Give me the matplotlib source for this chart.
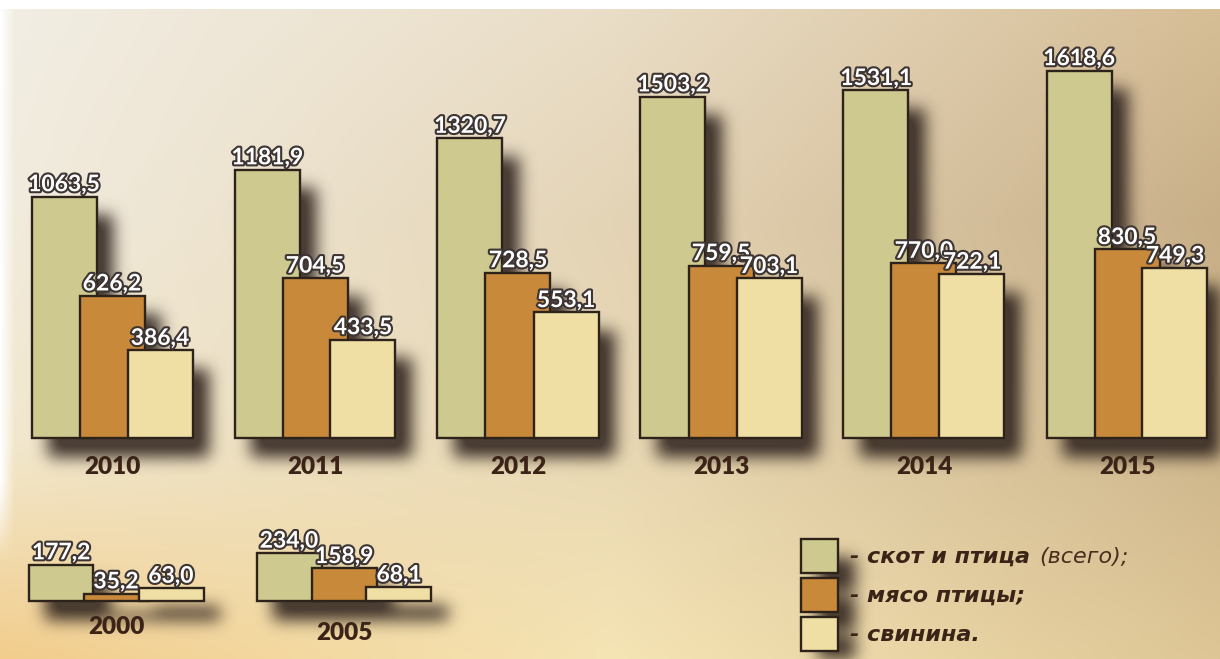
import numpy as np
import matplotlib
matplotlib.use("Agg")
import matplotlib.pyplot as plt
from matplotlib import patheffects
from matplotlib.patches import Patch
from matplotlib.font_manager import FontProperties

# Данные
years_main = ["2010", "2011", "2012", "2013", "2014", "2015"]
total_main = [1063.5, 1181.9, 1320.7, 1503.2, 1531.1, 1618.6]
poultry_main = [626.2, 704.5, 728.5, 759.5, 770.0, 830.5]
pork_main = [386.4, 433.5, 553.1, 703.1, 722.1, 749.3]

years_early = ["2000", "2005"]
total_early = [177.2, 234.0]
poultry_early = [35.2, 158.9]
pork_early = [63.0, 68.1]

legend_labels = ["- скот и птица", "- мясо птицы;", "- свинина."]

W, H = 1220, 659
COLORS = ["#cec98e", "#c8893a", "#f0dfa5"]
EDGE = "#2d231b"
BROWN = "#3b2417"


def fmt(v):
    return f"{v:.1f}".replace(".", ",")


def background():
    """Фон: плавный переход от светлого к песочному"""
    ys = [0, 220, 440, H]
    xs = [0, W / 2, W]
    grid = np.array([
        [(242, 238, 228), (234, 222, 200), (214, 190, 150)],
        [(242, 236, 222), (228, 212, 182), (200, 175, 136)],
        [(242, 232, 206), (232, 216, 180), (206, 182, 140)],
        [(242, 205, 140), (245, 228, 180), (222, 198, 150)],
    ], dtype=float) / 255
    xx = np.arange(W)
    yy = np.arange(H)
    rows = np.stack([np.stack([np.interp(xx, xs, grid[r, :, c]) for c in range(3)], -1)
                     for r in range(len(ys))])
    img = np.stack([np.stack([np.interp(yy, ys, rows[:, x, c]) for c in range(3)], -1)
                    for x in range(W)], 1)
    # белая кромка сверху и мягкая слева
    img[:9, :] = 1.0
    wx = np.clip(1 - xx / 14.0, 0, 1)[None, :]
    wy = np.clip((560 - yy) / 80.0, 0, 1)[:, None]
    w = (wx * wy)[..., None]
    img = img * (1 - w) + w
    return img


def blur(a, sigma):
    r = int(3 * sigma)
    k = np.exp(-0.5 * (np.arange(-r, r + 1) / sigma) ** 2)
    k /= k.sum()
    a = np.apply_along_axis(lambda m: np.convolve(m, k, mode="same"), 0, a)
    a = np.apply_along_axis(lambda m: np.convolve(m, k, mode="same"), 1, a)
    return a


label_fx = [patheffects.withStroke(linewidth=3, foreground="#3d3533")]


def draw_group(ax, x, series, width, step):
    bars = []
    for k, vals in enumerate(series):
        pos = x + (k - 1) * step
        b = ax.bar(pos, vals, width, color=COLORS[k], edgecolor=EDGE,
                   linewidth=1.7, zorder=2 + k)
        bars.extend(b)
        for xi, v in zip(pos, vals):
            ax.annotate(fmt(v), (xi, v), xytext=(0, 1), textcoords="offset points",
                        ha="center", va="bottom", fontsize=16.5, fontweight="bold",
                        family="Lato", color="white", path_effects=label_fx, zorder=10)
    return bars


fig = plt.figure(figsize=(W / 100, H / 100), dpi=100)

bg_ax = fig.add_axes([0, 0, 1, 1])
bg_ax.imshow(background(), aspect="auto", interpolation="bilinear")
bg_ax.axis("off")

sh_ax = fig.add_axes([0, 0, 1, 1])
sh_ax.axis("off")

# Основная диаграмма 2010-2015
ax = fig.add_axes([0, 0, 1, 1])
ax.axis("off")
s_main = 0.227   # пикселей на единицу
gap_main = 203.0
x_main = np.arange(len(years_main))
ax.set_xlim(-112 / gap_main, (W - 112) / gap_main)
ax.set_ylim(-(H - 438) / s_main, 438 / s_main)
bars = draw_group(ax, x_main, [total_main, poultry_main, pork_main],
                  65 / gap_main, 48 / gap_main)
for xi, yr in zip(x_main, years_main):
    ax.text(xi, -29 / s_main, yr, ha="center", va="center", fontsize=17.5,
            fontweight="heavy", family="Lato", color=BROWN)

# Малая диаграмма 2000, 2005
ax2 = fig.add_axes([0, 0, 1, 1])
ax2.axis("off")
s_early = 0.205
gap_early = 228.0
x_early = np.arange(len(years_early))
ax2.set_xlim(-116 / gap_early, (W - 116) / gap_early)
ax2.set_ylim(-(H - 601) / s_early, 601 / s_early)
bars += draw_group(ax2, x_early, [total_early, poultry_early, pork_early],
                   65 / gap_early, 55 / gap_early)
for xi, yr in zip(x_early, years_early):
    ax2.text(xi, -(26 + 6 * xi) / s_early, yr, ha="center", va="center", fontsize=17.5,
             fontweight="heavy", family="Lato", color=BROWN)

# Легенда
leg_font = FontProperties(family="DejaVu Sans", weight="bold", style="oblique", size=16)
handles = [Patch(facecolor=c, edgecolor=EDGE, linewidth=1.7) for c in COLORS]
leg = fig.legend(handles, legend_labels, loc="upper left",
                 bbox_to_anchor=(801 / W, 1 - 539 / H), frameon=False,
                 borderpad=0, borderaxespad=0, handlelength=1.67, handleheight=1.95,
                 labelspacing=0.25, handletextpad=0.55, prop=leg_font, labelcolor=BROWN)

fig.canvas.draw()
t0 = leg.get_texts()[0]
bb = t0.get_window_extent()
anchor = t0.get_transform().transform(t0.get_position())
fig.text((bb.x1 + 9) / W, anchor[1] / H, "(всего);", ha="left", va="baseline",
         family="DejaVu Sans", weight="normal", style="oblique", size=16, color="#4a2e1e")

# Размытые тени
mask = np.zeros((H, W))
dx, dy = 17, 19
for p in list(bars) + list(leg.get_patches()):
    e = p.get_window_extent()
    c0, c1 = int(e.x0) + dx, int(e.x1) + dx
    r0, r1 = int(H - e.y1) + dy, int(H - e.y0) + dy
    mask[max(r0, 0):max(min(r1, H), 0), max(c0, 0):max(min(c1, W), 0)] = 1.0
mask = blur(mask, 8)
shadow = np.zeros((H, W, 4))
shadow[..., 0] = 0.18
shadow[..., 1] = 0.13
shadow[..., 2] = 0.11
shadow[..., 3] = np.clip(mask * 1.1, 0, 1) * 0.85
sh_ax.imshow(shadow, aspect="auto", interpolation="bilinear")
sh_ax.axis("off")

fig.savefig("out.png", dpi=100)
